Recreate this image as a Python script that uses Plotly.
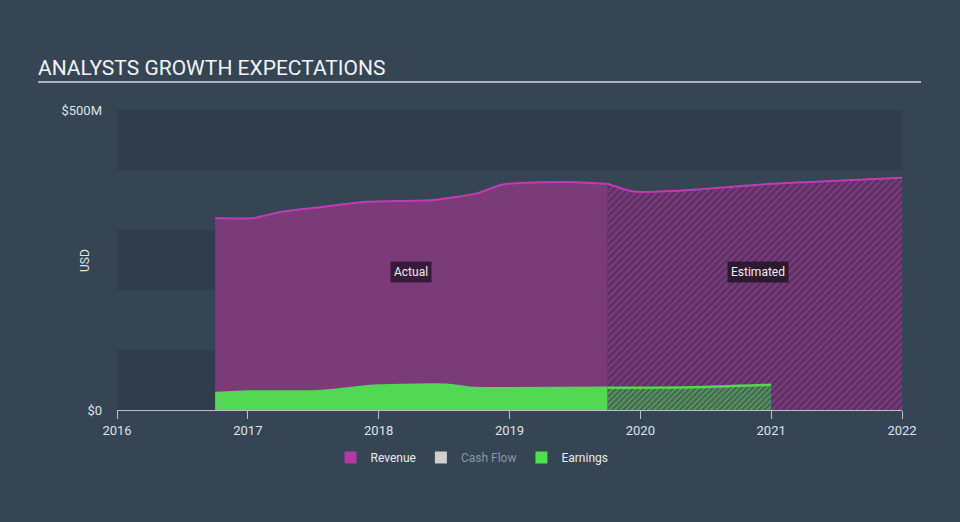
import plotly.graph_objects as go

# ---- data (USD millions, x in decimal years) ----
rev_actual_x = [2016.75, 2017.05, 2017.25, 2017.55, 2017.91, 2018.42, 2018.75, 2018.95, 2019.44, 2019.75]
rev_actual_y = [320, 320, 330, 338, 347, 350, 361, 376, 380, 377]
rev_est_x = [2019.75, 2019.95, 2020.4, 2021.0, 2021.5, 2022.0]
rev_est_y = [377, 364, 367, 377, 382, 387]

earn_actual_x = [2016.75, 2017.0, 2017.53, 2017.99, 2018.52, 2018.7, 2019.0, 2019.75]
earn_actual_y = [29, 31.5, 32, 41.5, 43, 38, 37, 38]
earn_est_x = [2019.75, 2020.4, 2021.0]
earn_est_y = [37, 38, 42]

year_ticks = [2016, 2017, 2018, 2019, 2020, 2021, 2022]
y_ticks = [0, 500]
y_tick_labels = ["$0", "$500M"]
bands = [(0, 100), (200, 300), (400, 500)]

REV_LINE = "#c03cb2"
REV_FILL = "#7b3a78"
EARN = "#52d852"
BG = "#354553"
BAND = "#303d4c"

fig = go.Figure()

fig.add_trace(go.Scatter(x=rev_actual_x, y=rev_actual_y, fill="tozeroy", mode="lines",
                         line=dict(color=REV_LINE, width=2, shape="spline", smoothing=0.6),
                         fillcolor=REV_FILL, showlegend=False, hoverinfo="skip"))
fig.add_trace(go.Scatter(x=rev_est_x, y=rev_est_y, fill="tozeroy", mode="lines",
                         line=dict(color=REV_LINE, width=2, shape="spline", smoothing=0.6),
                         fillpattern=dict(shape="/", fgcolor="#a8409f", bgcolor="#583262",
                                          size=5, solidity=0.45),
                         showlegend=False, hoverinfo="skip"))
fig.add_trace(go.Scatter(x=earn_actual_x, y=earn_actual_y, fill="tozeroy", mode="lines",
                         line=dict(color=EARN, width=1.5, shape="spline", smoothing=0.6),
                         fillcolor=EARN, showlegend=False, hoverinfo="skip"))
fig.add_trace(go.Scatter(x=earn_est_x, y=earn_est_y, fill="tozeroy", mode="lines",
                         line=dict(color=EARN, width=2.5, shape="spline", smoothing=0.6),
                         fillpattern=dict(shape="/", fgcolor=EARN, bgcolor="#4b5e58",
                                          size=4, solidity=0.5),
                         showlegend=False, hoverinfo="skip"))

# legend-only entries
for name, col in [("Revenue", "#b03aa2"),
                  ("<span style='color:#8a96a3'>Cash Flow</span>", "#cfcfcf"),
                  ("Earnings", "#4de04d")]:
    fig.add_trace(go.Scatter(x=[None], y=[None], mode="markers", name=name,
                             marker=dict(symbol="square", size=14, color=col)))

shapes = []
for lo, hi in bands:
    shapes.append(dict(type="rect", xref="paper", yref="y", x0=0, x1=1, y0=lo, y1=hi,
                       fillcolor=BAND, line=dict(width=0), layer="below"))
# title underline
shapes.append(dict(type="line", xref="paper", yref="paper", x0=(38 - 117) / 785, x1=(921 - 117) / 785,
                   y0=1 + 28 / 300, y1=1 + 28 / 300, line=dict(color="#aab2ba", width=2)))

fig.update_layout(
    width=960, height=522,
    margin=dict(l=117, r=58, t=110, b=112),
    paper_bgcolor=BG, plot_bgcolor=BG,
    font=dict(family="Roboto, sans-serif", color="#e0e4e8", size=12),
    shapes=shapes,
    title=dict(text="ANALYSTS GROWTH EXPECTATIONS", x=38 / 960, xanchor="left",
               y=1 - 68 / 522, yanchor="middle",
               font=dict(size=21, color="#f2f4f6", family="Roboto, sans-serif")),
    xaxis=dict(range=[2016, 2022], tickvals=year_ticks, ticktext=[str(v) for v in year_ticks],
               showgrid=False, zeroline=False, showline=True, linecolor="#b8c0c8", linewidth=1,
               ticks="outside", ticklen=8, tickcolor="#b8c0c8",
               tickfont=dict(size=13, color="#dfe3e7")),
    yaxis=dict(range=[0, 500], tickvals=y_ticks, ticktext=y_tick_labels,
               showgrid=False, zeroline=False, showline=False, ticks="",
               ticklabelstandoff=14,
               tickfont=dict(size=13, color="#dfe3e7")),
    legend=dict(orientation="h", x=(472 - 117) / 785, xanchor="center", y=-0.11, yanchor="top",
                font=dict(size=12, color="#e8ebee"), bgcolor="rgba(0,0,0,0)",
                itemsizing="constant", itemwidth=30),
    annotations=[
        dict(x=2018.25, y=230, text="Actual", showarrow=False, bgcolor="#3a1a3a",
             font=dict(size=12, color="#eeeeee"), borderpad=3),
        dict(x=2020.9, y=230, text="Estimated", showarrow=False, bgcolor="#2c1a30",
             font=dict(size=12, color="#eeeeee"), borderpad=3),
        dict(xref="paper", yref="paper", x=(85 - 117) / 785, y=(410 - 261) / 300, text="USD",
             xanchor="center", textangle=-90, showarrow=False, font=dict(size=12, color="#dfe3e7")),
    ],
)

fig.write_html("out.html", config={"displayModeBar": False},
               post_script="document.body.style.margin='0';document.body.style.padding='0';"
                           "document.body.style.background='#354553';")
